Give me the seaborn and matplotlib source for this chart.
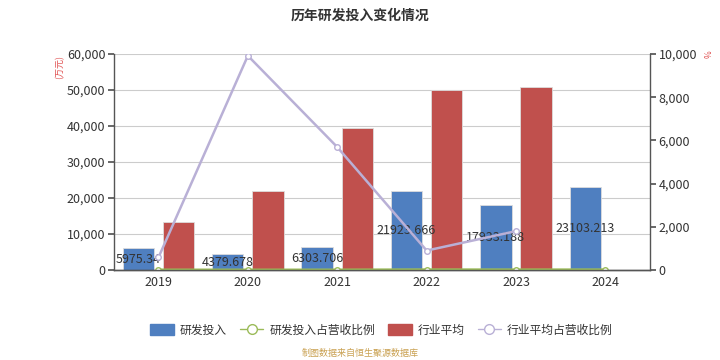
import numpy as np
import pandas as pd
import matplotlib
matplotlib.use("Agg")
import matplotlib.pyplot as plt
import matplotlib.ticker as mticker
from matplotlib.patches import Patch
from matplotlib.lines import Line2D
import seaborn as sns

years = ["2019", "2020", "2021", "2022", "2023", "2024"]
rd_invest = [5975.34, 4379.678, 6303.706, 21923.666, 17933.188, 23103.213]
industry_avg = [13300, 22000, 39400, 50100, 50700, np.nan]
rd_ratio = [6.2, 4.1, 5.3, 14.8, 11.2, 12.6]
industry_ratio = [580, 9920, 5690, 900, 1800, np.nan]

blue = "#4f7fc0"
red = "#c0504d"
green = "#9bbb59"
purple = "#b9b0d6"

sns.set_theme(style="white")
plt.rcParams["font.family"] = ["Noto Sans CJK SC", "DejaVu Sans"]

bars = pd.DataFrame({
    "year": years * 2,
    "value": rd_invest + industry_avg,
    "kind": ["研发投入"] * 6 + ["行业平均"] * 6,
})
lines = pd.DataFrame({
    "year": years * 2,
    "ratio": rd_ratio + industry_ratio,
    "kind": ["研发投入占营收比例"] * 6 + ["行业平均占营收比例"] * 6,
})

fig = plt.figure(figsize=(7.2, 3.6), dpi=100)
ax = fig.add_axes([0.158, 0.25, 0.745, 0.60])

sns.barplot(data=bars, x="year", y="value", hue="kind", order=years,
            palette=[blue, red], saturation=1, width=0.9, gap=0.22,
            edgecolor="#dddddd", linewidth=0.6, legend=False, ax=ax)

# labels in the middle of the blue bars
for p, v in zip(ax.containers[0], rd_invest):
    ax.text(p.get_x() + p.get_width() / 2, v / 2, f"{v}",
            ha="center", va="center", fontsize=9, color="#333333", zorder=5)

ax.set_ylim(0, 60000)
ax.set_yticks(np.arange(0, 60001, 10000))
ax.yaxis.set_major_formatter(mticker.FuncFormatter(lambda v, _: f"{v:,.0f}"))
ax.yaxis.grid(True, color="#cccccc", linewidth=0.8)
ax.set_axisbelow(True)
ax.set_xlabel("")
ax.set_ylabel("")

ax2 = ax.twinx()
sns.pointplot(data=lines[lines.kind == "研发投入占营收比例"], x="year", y="ratio",
              order=years, color=green, markers="o", markersize=4,
              linewidth=2, ax=ax2)
sns.pointplot(data=lines[lines.kind == "行业平均占营收比例"], x="year", y="ratio",
              order=years, color=purple, markers="o", markersize=4,
              linewidth=1.8, ax=ax2)
for ln in ax2.lines:
    ln.set_markerfacecolor("white")
    ln.set_markeredgewidth(1)
ax2.set_ylim(0, 10000)
ax2.set_yticks(np.arange(0, 10001, 2000))
ax2.yaxis.set_major_formatter(mticker.FuncFormatter(lambda v, _: f"{v:,.0f}"))
ax2.set_xlabel("")
ax2.set_ylabel("")
ax2.set_xlim(-0.5, 5.5)

for a in (ax, ax2):
    a.spines["top"].set_visible(False)
    for s in ("left", "right", "bottom"):
        a.spines[s].set_color("#555555")
        a.spines[s].set_linewidth(1)
    a.tick_params(axis="y", length=4, color="#555555", labelsize=9,
                  labelcolor="#333333", pad=2)
ax.spines["right"].set_visible(False)
ax2.spines["left"].set_visible(False)

ax.set_xticks(np.arange(len(years)))
ax.set_xticklabels(years)
ax.set_xticks(np.arange(-0.5, len(years)), minor=True)
ax.tick_params(axis="x", which="major", length=0, labelsize=9,
               labelcolor="#333333", pad=4)
ax.tick_params(axis="x", which="minor", length=4, color="#555555")

# unit labels
fig.text(0.083, 0.815, "(万元)", rotation=90, color="#e05050", fontsize=6.5,
         ha="center", va="center")
fig.text(0.985, 0.85, "%", rotation=90, color="#e05050", fontsize=6,
         ha="center", va="center")

fig.suptitle("历年研发投入变化情况", y=0.975, fontsize=10, fontweight="bold",
             color="#333333")

handles = [
    Patch(facecolor=blue, edgecolor=blue),
    Line2D([0], [0], color=green, marker="o", markerfacecolor="white",
           markersize=7, linewidth=1),
    Patch(facecolor=red, edgecolor=red),
    Line2D([0], [0], color=purple, marker="o", markerfacecolor="white",
           markersize=7, linewidth=1),
]
labels = ["研发投入", "研发投入占营收比例", "行业平均", "行业平均占营收比例"]
fig.legend(handles, labels, loc="center", bbox_to_anchor=(0.53, 0.083), ncol=4,
           frameon=False, fontsize=8.5, handlelength=2.0, handleheight=1.0,
           columnspacing=1.1, handletextpad=0.5, labelcolor="#333333")

fig.text(0.5, 0.018, "制图数据来自恒生聚源数据库", ha="center", va="center",
         fontsize=6.5, color="#c9a050")

fig.savefig("out.png", dpi=100)
